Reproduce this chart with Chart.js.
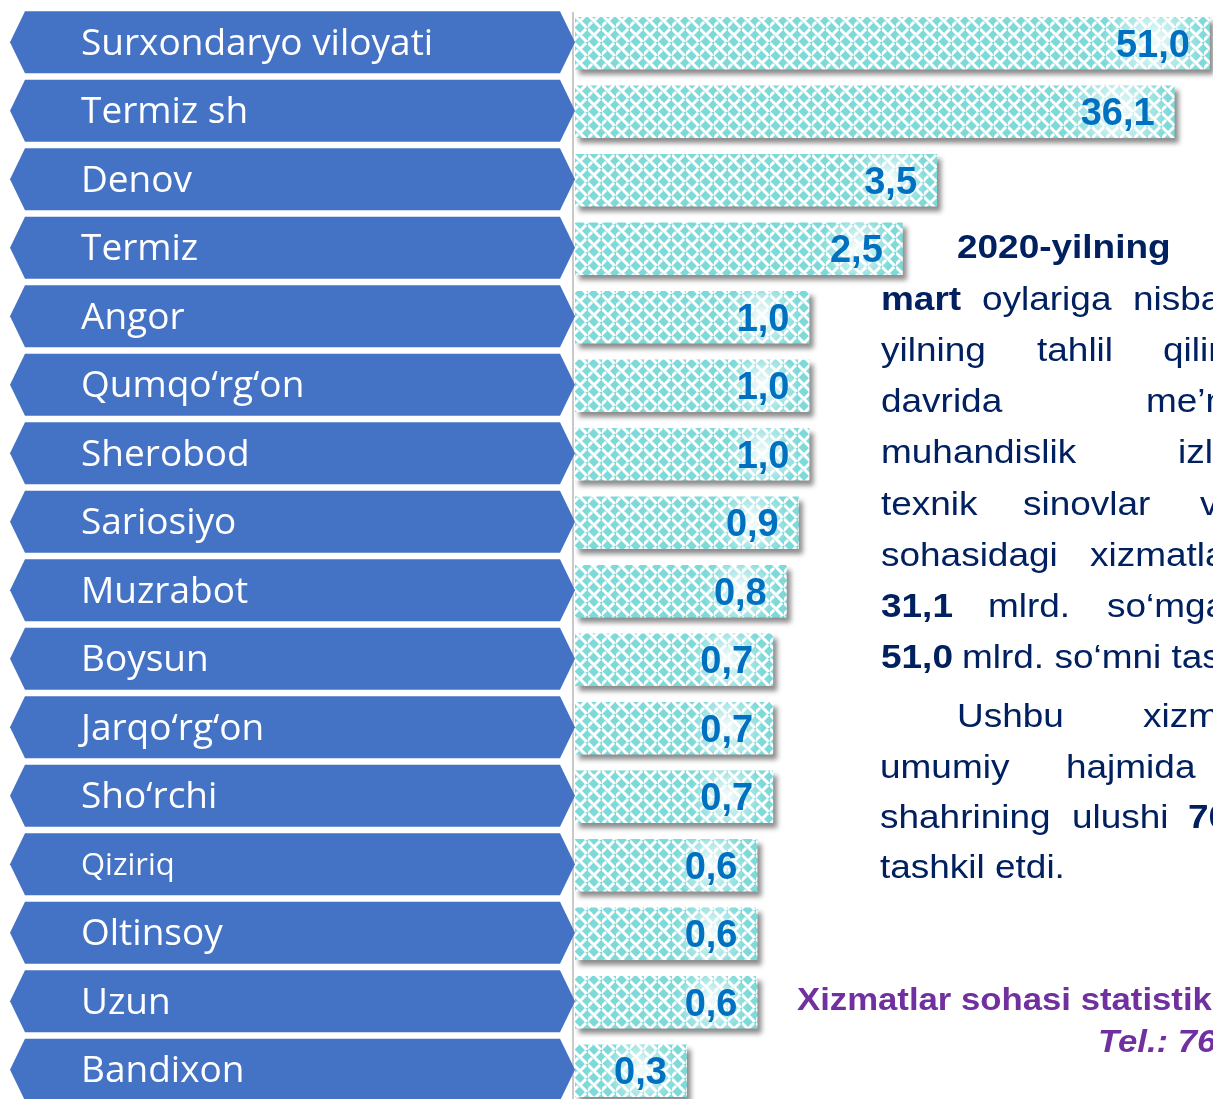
<!DOCTYPE html>
<html>
<head>
<meta charset="utf-8">
<script src="https://cdn.jsdelivr.net/npm/chart.js@4.4.1/dist/chart.umd.min.js"></script>
<style>
    html, body { margin: 0; padding: 0; background: #fff; }
    body { width: 1213px; height: 1099px; overflow: hidden; position: relative; }
    #chartBox { position: absolute; left: 0; top: 0; }
    #note { position: absolute; left: 0; top: 0; width: 1213px; height: 1099px; overflow: hidden; pointer-events: none; }
    .w { position: absolute; white-space: nowrap; font-family: "Liberation Sans", Arial, sans-serif;
         font-size: 33px; line-height: 33px; color: #002060; transform: scaleX(1.12); transform-origin: left top; }
    .b { font-weight: bold; }
    .foot { color: #7030A0; font-weight: bold; font-size: 31px; line-height: 31px; }
</style>
</head>
<body>
<div id="chartBox"><canvas id="rankChart" width="1213" height="1105"></canvas></div>
<div id="note"></div>

<script>
// Tumanlar va qiymatlar (mlrd. so'm)
const categories = ['Surxondaryo viloyati', 'Termiz sh', 'Denov', 'Termiz', 'Angor', 'Qumqo‘rg‘on',
    'Sherobod', 'Sariosiyo', 'Muzrabot', 'Boysun', 'Jarqo‘rg‘on', 'Sho‘rchi', 'Qiziriq', 'Oltinsoy',
    'Uzun', 'Bandixon'];
const values = [51.0, 36.1, 3.5, 2.5, 1.0, 1.0, 1.0, 0.9, 0.8, 0.7, 0.7, 0.7, 0.6, 0.6, 0.6, 0.3];

// O'ng tomondagi matn: [so'z, x, baseline, qalin]
const noteWords = [
    ['2020-yilning', 957, 258, true],
    ['mart', 881, 310, true], ['oylariga', 982, 310], ['nisbatan', 1133, 310],
    ['yilning', 881, 361], ['tahlil', 1037, 361], ['qilingan', 1163, 361],
    ['davrida', 881, 412], ['me’moriy', 1146, 412],
    ['muhandislik', 881, 463], ['izlanishlar', 1178, 463],
    ['texnik', 881, 515], ['sinovlar', 1023, 515], ['va', 1200, 515],
    ['sohasidagi', 881, 566], ['xizmatlar', 1090, 566],
    ['31,1', 881, 617, true], ['mlrd.', 988, 617], ['so‘mga', 1107, 617],
    ['51,0', 881, 668, true], ['mlrd. so‘mni tashkil etdi.', 962, 668],
    ['Ushbu', 957, 727], ['xizmatlar', 1143, 727],
    ['umumiy', 880, 778], ['hajmida', 1066, 778],
    ['shahrining', 880, 828], ['ulushi', 1072, 828], ['70,8', 1188, 828, true],
    ['tashkil etdi.', 880, 878]
];

const note = document.getElementById('note');
noteWords.forEach(function(w) {
    const el = document.createElement('span');
    el.className = 'w' + (w[3] ? ' b' : '');
    el.textContent = w[0];
    el.style.left = w[1] + 'px';
    el.style.top = (w[2] - 28) + 'px';
    note.appendChild(el);
});
function addFoot(text, x, base, italic) {
    const el = document.createElement('span');
    el.className = 'w foot';
    el.textContent = text;
    el.style.left = x + 'px';
    el.style.top = (base - 26) + 'px';
    if (italic) el.style.fontStyle = 'italic';
    note.appendChild(el);
}
addFoot('Xizmatlar sohasi statistikasi bo‘limi', 797, 1010);
addFoot('Tel.: 76', 1098, 1052, true);

// Naqshli to'ldirish (weave)
function makePattern() {
    const c = document.createElement('canvas');
    c.width = 14; c.height = 14;
    const p = c.getContext('2d');
    p.fillStyle = '#7fd9d9';
    p.fillRect(0, 0, 14, 14);
    p.strokeStyle = '#ffffff';
    p.lineWidth = 3;
    p.lineCap = 'square';
    p.beginPath();
    p.moveTo(1, 2); p.lineTo(6, 7); p.lineTo(11, 2);
    p.moveTo(8, 9); p.lineTo(12, 13);
    p.moveTo(-1, 13); p.lineTo(3, 9);
    p.stroke();
    const ctx = document.getElementById('rankChart').getContext('2d');
    return ctx.createPattern(c, 'repeat');
}

const sideLabels = {
    id: 'sideLabels',
    beforeDatasetsDraw: function(chart) {
        const ctx = chart.ctx;
        const y = chart.scales.y;
        const half = 31;
        ctx.save();
        // o'q chizig'i
        ctx.strokeStyle = '#c9c9c9';
        ctx.lineWidth = 2;
        ctx.beginPath();
        ctx.moveTo(573, 12);
        ctx.lineTo(573, 1105);
        ctx.stroke();

        categories.forEach(function(name, i) {
            const cy = y.getPixelForValue(i) - 1;
            ctx.fillStyle = '#4472C4';
            ctx.beginPath();
            ctx.moveTo(10, cy);
            ctx.lineTo(25, cy - half);
            ctx.lineTo(560, cy - half);
            ctx.lineTo(575, cy);
            ctx.lineTo(560, cy + half);
            ctx.lineTo(25, cy + half);
            ctx.closePath();
            ctx.fill();

            ctx.fillStyle = '#ffffff';
            ctx.textBaseline = 'middle';
            ctx.textAlign = 'left';
            const size = name === 'Qiziriq' ? 31 : 37;
            ctx.font = size + 'px "Open Sans", sans-serif';
            ctx.fillText(name, 81, cy + 2);
        });
        ctx.restore();

        // soya
        ctx.save();
        ctx.shadowColor = 'rgba(0, 0, 0, 0.45)';
        ctx.shadowOffsetX = 4;
        ctx.shadowOffsetY = 5;
        ctx.shadowBlur = 5;
    },
    afterDatasetsDraw: function(chart) {
        const ctx = chart.ctx;
        ctx.restore();
        const meta = chart.getDatasetMeta(0);
        ctx.save();
        meta.data.forEach(function(bar, i) {
            const xr = bar.x - 20;
            const txt = values[i].toFixed(1).replace('.', ',');
            ctx.font = 'bold 38px "Liberation Sans", Arial, sans-serif';
            const w = ctx.measureText(txt).width;
            const cx = xr - w / 2;
            const g = ctx.createRadialGradient(cx, bar.y, 4, cx, bar.y, w * 0.7);
            g.addColorStop(0, 'rgba(255,255,255,0.85)');
            g.addColorStop(1, 'rgba(255,255,255,0)');
            ctx.fillStyle = g;
            ctx.fillRect(cx - w, bar.y - 26, w * 2, 52);

            ctx.fillStyle = '#0070C0';
            ctx.textAlign = 'right';
            ctx.textBaseline = 'middle';
            ctx.fillText(txt, xr, bar.y + 3);
        });
        ctx.restore();
    }
};

new Chart(document.getElementById('rankChart'), {
    type: 'bar',
    data: {
        labels: categories,
        datasets: [{
            data: values,
            backgroundColor: makePattern(),
            borderWidth: 0,
            categoryPercentage: 1,
            barPercentage: 0.77
        }]
    },
    options: {
        indexAxis: 'y',
        responsive: false,
        animation: false,
        devicePixelRatio: 1,
        layout: { padding: { left: 575, top: 9, right: 0, bottom: 0 } },
        scales: {
            x: { type: 'logarithmic', min: 0.1, max: 52.6, display: false },
            y: { display: false }
        },
        plugins: {
            legend: { display: false },
            tooltip: { enabled: false }
        }
    },
    plugins: [sideLabels]
});
</script>
</body>
</html>
